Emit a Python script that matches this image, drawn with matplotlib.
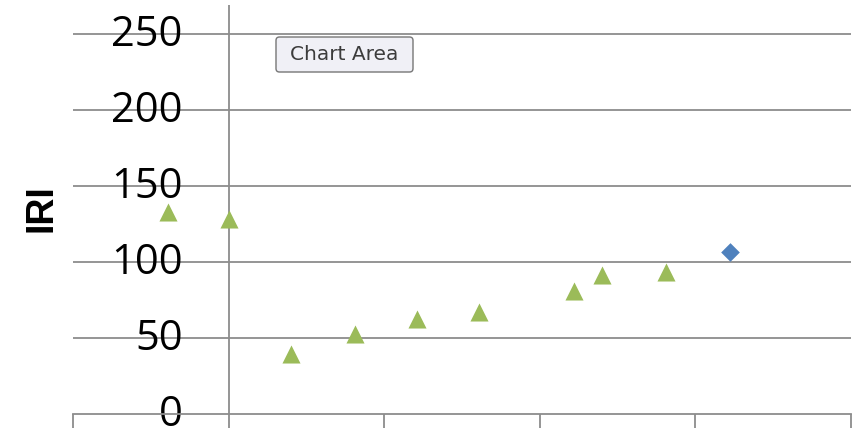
import numpy as np
import matplotlib
matplotlib.use('Agg')
import matplotlib.pyplot as plt
from matplotlib.patches import FancyBboxPatch
from matplotlib.transforms import ScaledTranslation

# values
tri_x = [-0.39, 0.0, 0.40, 0.81, 1.21, 1.61, 2.22, 2.40, 2.81]
tri_y = [133, 128, 39.5, 52.6, 62.2, 67.4, 80.6, 91.1, 93.4]
dia_x = [3.22]
dia_y = [106.6]
y_ticks = [0, 50, 100, 150, 200, 250]
x_ticks = [-1, 0, 1, 2, 3, 4]

grid_c = '#8c8c8c'

fig = plt.figure(figsize=(8.64, 4.33), dpi=100)
ax = fig.add_axes([73/864, 19/433, (851-73)/864, (428-19)/433])

ax.set_xlim(-1, 4)
ax.set_ylim(0, 269)

for yv in y_ticks[1:]:
    ax.axhline(yv, color=grid_c, lw=1.3, zorder=1)
ax.axvline(0, color=grid_c, lw=1.3, zorder=1)

ax.scatter(tri_x, tri_y, marker='^', s=13**2, color='#9bbb59', zorder=3,
           linewidths=0)
ax.scatter(dia_x, dia_y, marker='D', s=9.5**2, color='#4f81bd', zorder=3,
           linewidths=0)

for side in ['left', 'right', 'top']:
    ax.spines[side].set_visible(False)
ax.spines['bottom'].set_color(grid_c)
ax.spines['bottom'].set_linewidth(1.3)

ax.set_xticks(x_ticks)
ax.set_xticklabels([])
ax.tick_params(axis='x', length=10, width=1.3, color=grid_c, direction='out')

ax.set_yticks(y_ticks)
ax.set_yticklabels([str(v) for v in y_ticks], fontsize=30,
                   family='Open Sans')
ax.tick_params(axis='y', length=0, pad=-79)
# nudge the labels up so the gridline runs through their middle
shift = ScaledTranslation(0, 4/100, fig.dpi_scale_trans)
for lab in ax.get_yticklabels():
    lab.set_zorder(5)
    lab.set_transform(lab.get_transform() + shift)

fig.text(41/864, 1-208/433, 'IRI', rotation=90, ha='center', va='center',
         fontsize=27, fontweight='bold', family='Liberation Sans')

# tooltip box
box = FancyBboxPatch((276/864, 1-72/433), 137/864, 35/433,
                     boxstyle='round,pad=0,rounding_size=0.004',
                     mutation_aspect=864/433,
                     transform=fig.transFigure, facecolor='#f0f0f6',
                     edgecolor='#767676', lw=1.0, zorder=10)
fig.patches.append(box)
fig.text(344/864, 1-54/433, 'Chart Area', ha='center', va='center',
         fontsize=14.5, color='#3c3c3c', zorder=11)

fig.savefig('out.png', dpi=100)
